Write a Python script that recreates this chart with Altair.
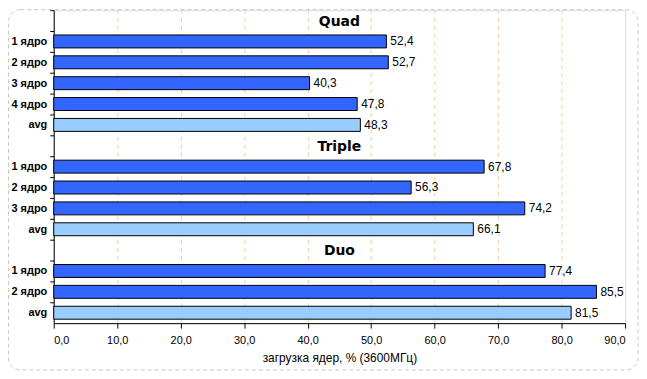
import altair as alt
import pandas as pd

groups = ["Quad", "Triple", "Duo"]
quad_labels = ["1 ядро", "2 ядро", "3 ядро", "4 ядро", "avg"]
quad_values = [52.4, 52.7, 40.3, 47.8, 48.3]
triple_labels = ["1 ядро", "2 ядро", "3 ядро", "avg"]
triple_values = [67.8, 56.3, 74.2, 66.1]
duo_labels = ["1 ядро", "2 ядро", "avg"]
duo_values = [77.4, 85.5, 81.5]
x_ticks = [0, 10, 20, 30, 40, 50, 60, 70, 80, 90]

rows = []
headers = []
for g, labs, vals in [(groups[0], quad_labels, quad_values),
                      (groups[1], triple_labels, triple_values),
                      (groups[2], duo_labels, duo_values)]:
    rows.append({"key": f"{g}|", "value": None, "kind": "header", "group": g})
    headers.append({"key": f"{g}|", "group": g, "pos": 45})
    for l, v in zip(labs, vals):
        rows.append({"key": f"{g}|{l}", "value": v,
                     "kind": "avg" if l == "avg" else "core", "group": g,
                     "txt": f"{v:.1f}".replace(".", ",")})

df = pd.DataFrame(rows)
bars_df = df[df["kind"] != "header"]
hdr_df = pd.DataFrame(headers)
order = list(df["key"])

W, H = 575, 315

y_enc = alt.Y("key:N", sort=order, title=None,
              scale=alt.Scale(domain=order, paddingInner=0.38),
              axis=alt.Axis(labelExpr="split(datum.label, '|')[1]",
                            labelFont="Liberation Sans", labelFontWeight="bold",
                            labelFontSize=11, labelColor="black",
                            tickOffset=-10.5, labelOffset=10.5,
                            tickSize=4, tickColor="black", domainColor="black",
                            labelPadding=3))

x_scale = alt.Scale(domain=[0, 90], nice=False)
x_axis = alt.Axis(values=x_ticks,
                  labelExpr="replace(format(datum.value, '.1f'), '.', ',')",
                  title="загрузка ядер, % (3600МГц)",
                  titleFont="Liberation Sans", titleFontSize=12,
                  titleFontWeight="normal", titleColor="black", titlePadding=8,
                  labelFont="Liberation Sans", labelFontSize=11, labelColor="black",
                  labelPadding=6,
                  tickSize=5, tickColor="black", domainColor="black",
                  grid=True, gridColor="#F8CC99", gridDash=[4, 4],
                  gridOpacity={"condition": {"test": "datum.value == 0 || datum.value == 90", "value": 0}, "value": 1})

bars = alt.Chart(bars_df).mark_bar(stroke="black", strokeWidth=1).encode(
    x=alt.X("value:Q", scale=x_scale, axis=x_axis),
    y=y_enc,
    color=alt.Color("kind:N", scale=alt.Scale(domain=["core", "avg"],
                                              range=["#3366FF", "#99CCFF"]),
                    legend=None),
)

labels = alt.Chart(bars_df).mark_text(align="left", dx=4, font="Liberation Sans",
                                      fontSize=12, color="black").encode(
    x=alt.X("value:Q", scale=x_scale),
    y=alt.Y("key:N", sort=order),
    text="txt:N",
)

hdr = alt.Chart(hdr_df).mark_text(align="center", font="DejaVu Sans",
                                  fontWeight="bold", fontSize=14, color="black",
                                  dy=1).encode(
    x=alt.X("pos:Q", scale=x_scale),
    y=alt.Y("key:N", sort=order),
    text="group:N",
)

frame = alt.Chart(hdr_df.head(1)).mark_rect(filled=False, stroke="#C8C8C8",
                                            strokeDash=[4, 3], strokeWidth=1,
                                            cornerRadius=12, clip=False).encode(
    x=alt.value(-45.5), x2=alt.value(W + 13),
    y=alt.value(-0.5), y2=alt.value(H + 47),
)

chart = alt.layer(frame, bars, labels, hdr).properties(
    width=W, height=H, padding=0
).configure_view(stroke=None).configure(background="white")

chart.save("out.html", embed_options={"renderer": "svg", "actions": False})
